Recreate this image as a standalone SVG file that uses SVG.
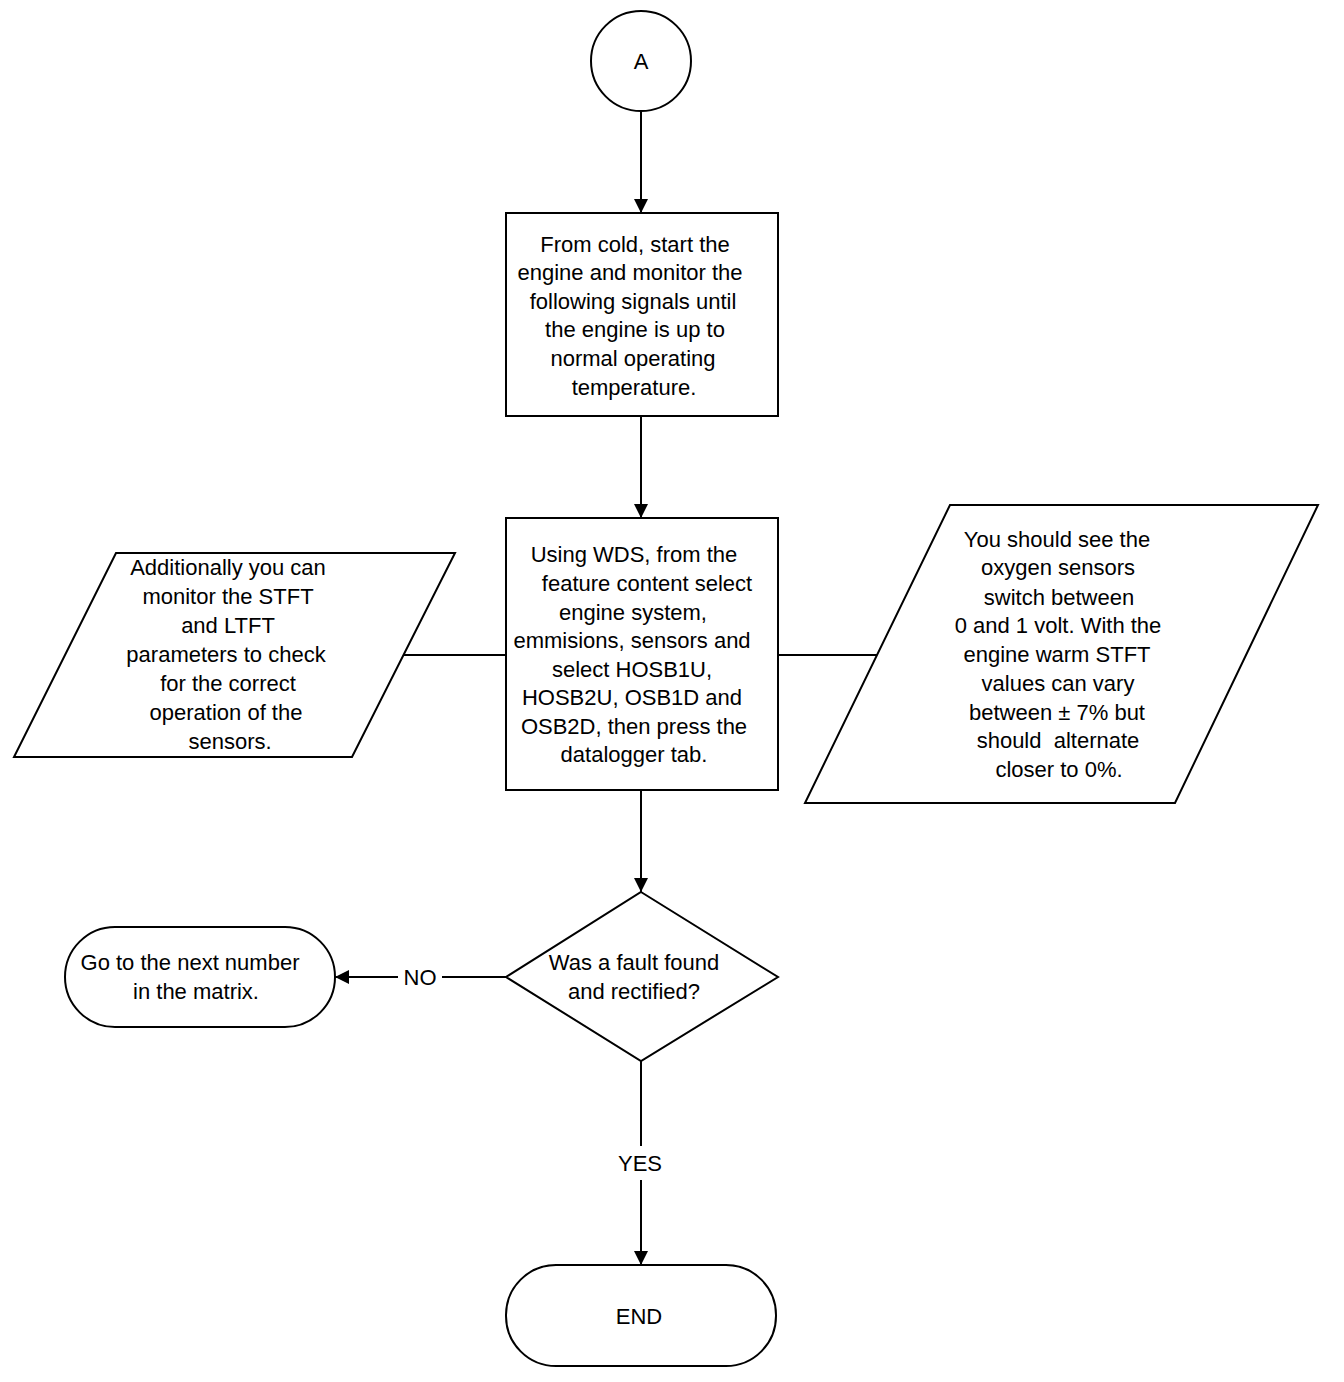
<svg xmlns="http://www.w3.org/2000/svg" width="1344" height="1382" viewBox="0 0 1344 1382">
<defs>
<marker id="ah" viewBox="0 0 14 14" refX="14" refY="7" markerWidth="14" markerHeight="14" markerUnits="userSpaceOnUse" orient="auto">
<path d="M0,0 L14,7 L0,14 Z" fill="#000"/>
</marker>
<style>
.s{fill:#fff;stroke:#000;stroke-width:2}
.c{fill:none;stroke:#000;stroke-width:2}
text{font-family:"Liberation Sans",Arial,sans-serif;font-size:22px;fill:#000;text-anchor:middle;white-space:pre}
</style>
</defs>
<rect width="1344" height="1382" fill="#fff"/>
<g id="connectors">
<line class="c" x1="641" y1="111" x2="641" y2="213" marker-end="url(#ah)"/>
<line class="c" x1="641" y1="416" x2="641" y2="518" marker-end="url(#ah)"/>
<line class="c" x1="404" y1="655" x2="506" y2="655"/>
<line class="c" x1="778" y1="655" x2="878" y2="655"/>
<line class="c" x1="641" y1="790" x2="641" y2="892" marker-end="url(#ah)"/>
<line class="c" x1="506" y1="977" x2="442" y2="977"/>
<line class="c" x1="398" y1="977" x2="335" y2="977" marker-end="url(#ah)"/>
<text x="420" y="985">NO</text>
<line class="c" x1="641" y1="1061" x2="641" y2="1146"/>
<line class="c" x1="641" y1="1180" x2="641" y2="1265" marker-end="url(#ah)"/>
<text x="640" y="1171">YES</text>
</g>
<g id="nodeA">
<circle class="s" cx="641" cy="61" r="50"/>
<text x="641" y="69">A</text>
</g>
<g id="box1">
<rect class="s" x="506" y="213" width="272" height="203"/>
<text x="635" y="252">From cold, start the</text>
<text x="630" y="280">engine and monitor the</text>
<text x="633" y="309">following signals until</text>
<text x="635" y="337">the engine is up to</text>
<text x="633" y="366">normal operating</text>
<text x="634" y="395">temperature.</text>
</g>
<g id="box2">
<rect class="s" x="506" y="518" width="272" height="272"/>
<text x="634" y="562">Using WDS, from the</text>
<text x="647" y="591">feature content select</text>
<text x="633" y="620">engine system,</text>
<text x="632" y="648">emmisions, sensors and</text>
<text x="632" y="677">select HOSB1U,</text>
<text x="632" y="705">HOSB2U, OSB1D and</text>
<text x="634" y="734">OSB2D, then press the</text>
<text x="634" y="762">datalogger tab.</text>
</g>
<g id="leftNote">
<polygon class="s" points="116,553 455,553 352,757 14,757"/>
<text x="228" y="575">Additionally you can</text>
<text x="228" y="604">monitor the STFT</text>
<text x="228" y="633">and LTFT</text>
<text x="226" y="662">parameters to check</text>
<text x="228" y="691">for the correct</text>
<text x="226" y="720">operation of the</text>
<text x="230" y="749">sensors.</text>
</g>
<g id="rightNote">
<polygon class="s" points="950,505 1318,505 1175,803 805,803"/>
<text x="1057" y="547">You should see the</text>
<text x="1058" y="575">oxygen sensors</text>
<text x="1059" y="605">switch between</text>
<text x="1058" y="633">0 and 1 volt. With the</text>
<text x="1057" y="662">engine warm STFT</text>
<text x="1058" y="691">values can vary</text>
<text x="1057" y="720">between ± 7% but</text>
<text x="1058" y="748">should  alternate</text>
<text x="1059" y="777">closer to 0%.</text>
</g>
<g id="decision">
<polygon class="s" points="641,892 778,977 641,1061 506,977"/>
<text x="634" y="970">Was a fault found</text>
<text x="634" y="999">and rectified?</text>
</g>
<g id="nextNumber">
<rect class="s" x="65" y="927" width="270" height="100" rx="50" ry="50"/>
<text x="190" y="970">Go to the next number</text>
<text x="196" y="999">in the matrix.</text>
</g>
<g id="end">
<rect class="s" x="506" y="1265" width="270" height="101" rx="50" ry="50"/>
<text x="639" y="1324">END</text>
</g>
</svg>
